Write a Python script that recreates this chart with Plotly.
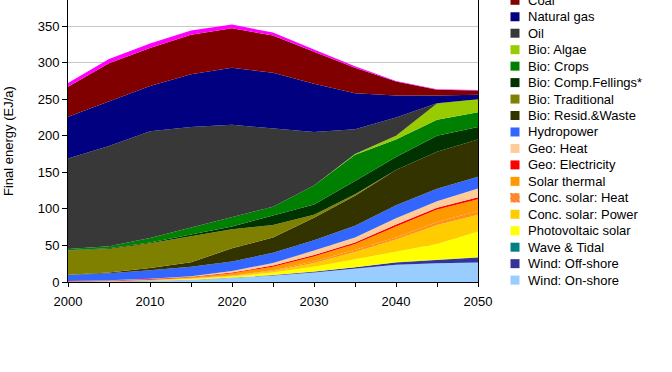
import plotly.graph_objects as go

# ---------------- data (EJ/a), stacked bottom -> top ----------------
years = [2000, 2005, 2010, 2015, 2020, 2025, 2030, 2035, 2040, 2045, 2050]

wind_onshore   = [0.3, 0.8, 1.5, 3.0, 5.5, 9.0, 13.0, 18.0, 23.5, 25.5, 26.5]
wind_offshore  = [0.0, 0.0, 0.1, 0.2, 0.3, 0.5, 1.0, 2.0, 3.0, 4.5, 7.0]
wave_tidal     = [0.0, 0.0, 0.0, 0.0, 0.0, 0.1, 0.2, 0.3, 0.4, 0.5, 0.5]
photovoltaic   = [0.1, 0.2, 0.6, 1.3, 1.7, 3.4, 6.8, 10.7, 15.1, 21.5, 35.0]
csp_power      = [0.0, 0.0, 0.1, 0.3, 1.0, 2.0, 5.0, 10.0, 16.0, 26.0, 23.0]
csp_heat       = [0.0, 0.0, 0.1, 0.2, 0.5, 1.0, 2.0, 3.0, 3.0, 4.0, 5.0]
solar_thermal  = [0.2, 0.3, 0.8, 1.5, 3.0, 5.0, 7.0, 8.0, 15.0, 17.0, 16.0]
geo_electric   = [0.6, 0.7, 0.8, 0.7, 1.0, 1.5, 2.0, 2.0, 2.5, 2.5, 3.0]
geo_heat       = [0.2, 0.3, 0.5, 0.8, 2.0, 3.5, 6.0, 7.0, 8.5, 9.0, 12.0]
hydropower     = [8.1, 9.7, 11.5, 13.0, 13.0, 14.0, 14.0, 16.0, 18.0, 17.0, 16.0]
bio_resid      = [0.5, 1.0, 3.0, 6.0, 18.0, 21.0, 31.0, 41.0, 48.0, 50.5, 51.0]
bio_traditional = [33.0, 32.0, 34.0, 36.0, 26.0, 17.0, 4.0, 2.0, 0.0, 0.0, 0.0]
bio_fellings   = [0.5, 1.0, 1.0, 2.0, 4.0, 13.0, 14.0, 18.0, 18.0, 22.0, 17.0]
bio_crops      = [1.5, 3.0, 6.0, 9.0, 13.0, 12.0, 26.0, 36.0, 24.0, 22.0, 20.0]
bio_algae      = [0.0, 0.0, 0.0, 0.0, 0.0, 0.0, 0.0, 1.0, 5.0, 22.0, 18.0]
oil            = [124.0, 137.0, 146.0, 138.0, 126.0, 107.0, 73.0, 34.0, 25.0, 0.5, 0.0]
natural_gas    = [57.0, 61.0, 62.0, 72.0, 78.0, 76.0, 66.0, 49.0, 30.0, 10.5, 6.0]
coal           = [41.0, 52.0, 52.0, 54.0, 54.0, 51.0, 44.0, 35.0, 19.0, 8.0, 6.0]
nuclear        = [5.0, 6.0, 6.0, 6.0, 5.0, 4.0, 3.0, 2.0, 1.0, 0.5, 0.5]

names = ["Wind: On-shore", "Wind: Off-shore", "Wave & Tidal", "Photovoltaic solar",
         "Conc. solar: Power", "Conc. solar: Heat", "Solar thermal", "Geo: Electricity",
         "Geo: Heat", "Hydropower", "Bio: Resid.&Waste", "Bio: Traditional",
         "Bio: Comp.Fellings*", "Bio: Crops", "Bio: Algae", "Oil", "Natural gas", "Coal",
         "Nuclear"]
values = [wind_onshore, wind_offshore, wave_tidal, photovoltaic, csp_power, csp_heat,
          solar_thermal, geo_electric, geo_heat, hydropower, bio_resid, bio_traditional,
          bio_fellings, bio_crops, bio_algae, oil, natural_gas, coal, nuclear]
colors = ["#99CCFF", "#333399", "#008080", "#FFFF00", "#FFCC00", "#FF9900", "#FF9900",
          "#FF0000", "#FFCC99", "#3366FF", "#333300", "#808000", "#003300", "#008000",
          "#99CC00", "#383838", "#000080", "#800000", "#FF00FF"]
HATCH_NAME = "Conc. solar: Heat"
HATCH_FG = "#FF7070"

x_tickvals = [2000, 2005, 2010, 2015, 2020, 2025, 2030, 2035, 2040, 2045, 2050]
x_ticktext = ["2000", "", "2010", "", "2020", "", "2030", "", "2040", "", "2050"]
y_tickvals = [0, 50, 100, 150, 200, 250, 300, 350]
y_title = "Final energy (EJ/a)"

# ---------------- geometry ----------------
W, H = 672, 372
L, R, T, B = 68, 478, 0, 282          # plot area in pixels
YMAX = 385.6
FONT = "Liberation Sans, Arial, sans-serif"

def px_x(px):
    return (px - L) / (R - L)

def px_y(py):
    return (B - py) / (B - T)

fig = go.Figure()
for n, v, c in zip(names, values, colors):
    kw = dict(x=years, y=v, name=n, mode="lines", stackgroup="one",
              line=dict(width=0, color=c), fillcolor=c, showlegend=False,
              hoverinfo="x+y+name")
    if n == HATCH_NAME:
        kw["fillpattern"] = dict(shape="\\", fgcolor=HATCH_FG, bgcolor=c,
                                 size=5, solidity=0.35, fillmode="overlay")
    fig.add_trace(go.Scatter(**kw))

# ---------------- custom legend (top entry = top of stack) ----------------
annotations = []
shapes = []
step = 16.46
y0 = 0.3 - step
sw_x0, sw_x1 = 510.5, 519.5
for i, (n, c) in enumerate(zip(names[::-1], colors[::-1])):
    yc = y0 + step * i
    if yc < -8:
        continue
    shapes.append(dict(type="rect", xref="paper", yref="paper",
                       x0=px_x(sw_x0), x1=px_x(sw_x1),
                       y0=px_y(yc + 4.5), y1=px_y(yc - 4.5),
                       fillcolor=c, line=dict(width=0), layer="above"))
    if n == HATCH_NAME:
        for (ax, ay, bx, by) in [(sw_x0, yc - 4.5, sw_x1, yc + 4.5),
                                 (sw_x0 + 4.5, yc - 4.5, sw_x1, yc),
                                 (sw_x0, yc, sw_x1 - 4.5, yc + 4.5)]:
            shapes.append(dict(type="line", xref="paper", yref="paper",
                               x0=px_x(ax), y0=px_y(ay), x1=px_x(bx), y1=px_y(by),
                               line=dict(color=HATCH_FG, width=1.5), layer="above"))
    annotations.append(dict(text=n, xref="paper", yref="paper",
                            x=px_x(525.5), y=px_y(yc), xanchor="left", yanchor="middle",
                            showarrow=False, font=dict(size=13, color="#000000", family=FONT)))

annotations.append(dict(text=y_title, xref="paper", yref="paper",
                        x=px_x(8), y=px_y(141), xanchor="center", yanchor="middle",
                        textangle=-90, showarrow=False,
                        font=dict(size=13, color="#000000", family=FONT)))

fig.update_layout(
    width=W, height=H, autosize=False,
    margin=dict(l=L, r=W - R, t=T, b=H - B, pad=0),
    paper_bgcolor="white", plot_bgcolor="white",
    font=dict(family=FONT, size=13, color="#000000"),
    showlegend=False,
    annotations=annotations, shapes=shapes,
    xaxis=dict(range=[2000, 2050], tickvals=x_tickvals, ticktext=x_ticktext,
               ticks="outside", ticklen=4, tickcolor="#000000", tickwidth=1,
               ticklabelstandoff=3,
               showline=True, linecolor="#000000", linewidth=1, mirror=False,
               showgrid=False, zeroline=False, fixedrange=True,
               tickfont=dict(size=13, family=FONT, color="#000000")),
    yaxis=dict(range=[0, YMAX], tickvals=y_tickvals,
               ticks="outside", ticklen=5, tickcolor="#000000", tickwidth=1,
               showline=True, linecolor="#000000", linewidth=1, mirror=True,
               showgrid=True, gridcolor="#C8C8C8", gridwidth=1, zeroline=False,
               fixedrange=True,
               tickfont=dict(size=13, family=FONT, color="#000000")),
)

fig.write_html("out.html")
